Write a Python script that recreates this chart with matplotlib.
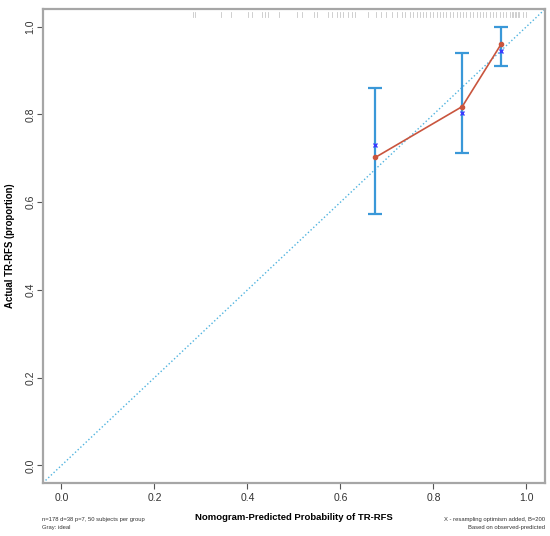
"""Calibration curve for TR-RFS nomogram"""

import matplotlib.pyplot as plt
import numpy as np

plt.rcParams['font.family'] = ['Liberation Sans', 'DejaVu Sans']

# GROUPED CALIBRATION DATA
pred = [0.675, 0.862, 0.946]
observed = [0.702, 0.818, 0.961]
corrected = [0.731, 0.803, 0.945]
ci_low = [0.572, 0.711, 0.911]
ci_high = [0.861, 0.941, 0.999]

# predicted probabilities of subjects (rug at top)
rug = [0.282, 0.288, 0.343, 0.364, 0.402, 0.409, 0.431, 0.437, 0.445, 0.467,
       0.506, 0.517, 0.542, 0.549, 0.574, 0.581, 0.592, 0.599, 0.606, 0.617,
       0.624, 0.631, 0.660, 0.676, 0.688, 0.698, 0.710, 0.721, 0.732, 0.739,
       0.750, 0.757, 0.764, 0.771, 0.778, 0.785, 0.792, 0.799, 0.807, 0.814,
       0.821, 0.828, 0.835, 0.842, 0.850, 0.857, 0.864, 0.871, 0.878, 0.885,
       0.893, 0.900, 0.907, 0.914, 0.921, 0.928, 0.935, 0.943, 0.950, 0.957,
       0.964, 0.968, 0.971, 0.975, 0.978, 0.982, 0.985, 0.993, 1.000]

ticks = [0.0, 0.2, 0.4, 0.6, 0.8, 1.0]

fig = plt.figure(figsize=(5.5, 5.36), dpi=100)
ax = fig.add_axes([0.078, 0.099, 0.913, 0.884])

# ideal line
ax.plot([-0.04, 1.04], [-0.04, 1.04], ':', color='#4fb3df', lw=1.0)

# error bars
obs = np.array(observed)
ax.errorbar(pred, observed, yerr=[obs - np.array(ci_low), np.array(ci_high) - obs],
            fmt='none', ecolor='#3a98d8', elinewidth=1.6, capsize=5, capthick=1.6, zorder=3)

ax.plot(pred, observed, '-', color='#c9553e', lw=1.2, zorder=4)
ax.plot(pred, observed, 'o', color='#c9553e', ms=3, zorder=5)
ax.plot(pred, corrected, 'x', color='#3b3bff', ms=3.5, mew=1.0, zorder=6)

# rug of predicted values
for r in rug:
    ax.plot([r, r], [1.022, 1.034], color='#c8c8c8', lw=0.6)

ax.set_xlim(-0.04, 1.04)
ax.set_ylim(-0.04, 1.04)
ax.set_xticks(ticks)
ax.set_yticks(ticks)
ax.set_xticklabels(['%.1f' % t for t in ticks])
ax.set_yticklabels(['%.1f' % t for t in ticks], rotation=90, va='center')
ax.tick_params(axis='both', colors='#555555', labelcolor='#333333', labelsize=7.5,
               length=4, width=0.8, pad=3)
ax.tick_params(axis='y', pad=1.5)

for s in ax.spines.values():
    s.set_color('#a6a6a6')
    s.set_linewidth(1.6)

ax.set_xlabel('Nomogram-Predicted Probability of TR-RFS', fontsize=6.8, fontweight='bold')
ax.set_ylabel('Actual TR-RFS (proportion)', fontsize=6.9, fontweight='bold')
ax.xaxis.set_label_coords(0.5, -0.063)
ax.yaxis.set_label_coords(-0.056, 0.5)

fs = 4.2
fig.text(42 / 550, 1 - 520 / 536, 'n=178 d=38 p=7, 50 subjects per group', fontsize=fs, va='center', color='#333333')
fig.text(42 / 550, 1 - 528 / 536, 'Gray: ideal', fontsize=fs, va='center', color='#333333')
fig.text(545 / 550, 1 - 520 / 536, 'X - resampling optimism added, B=200', fontsize=fs, va='center', ha='right', color='#333333')
fig.text(545 / 550, 1 - 528 / 536, 'Based on observed-predicted', fontsize=fs, va='center', ha='right', color='#333333')

fig.savefig('out.png', dpi=100)
